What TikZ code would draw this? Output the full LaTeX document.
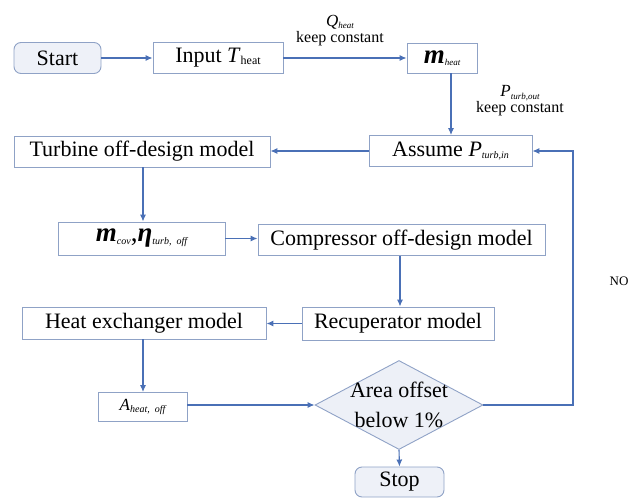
\documentclass[tikz,border=0pt]{standalone}
\usepackage{fontspec}
\setmainfont{Liberation Serif}
\usetikzlibrary{shapes.geometric,arrows.meta}
\definecolor{boxc}{HTML}{8FA2C6}
\definecolor{arrc}{HTML}{4A70B6}
\definecolor{termfill}{HTML}{EEF1F8}
\definecolor{diafill}{HTML}{EDF0F7}
\newcommand\mysub[2][10]{\raisebox{-2.5pt}{\fontsize{#1}{#1}\selectfont\mdseries\itshape #2}}
\begin{document}
\begin{tikzpicture}[x=1pt,y=-1pt,
  box/.style={draw=boxc, line width=0.9pt, minimum height=31pt, inner sep=0pt,
    font=\fontsize{22}{24}\selectfont},
  term/.style={box, rounded corners=7pt, fill=termfill},
  dia/.style={draw=boxc, line width=0.9pt, diamond, aspect=1.89, minimum width=168pt,
    minimum height=89pt, inner sep=0pt, fill=diafill},
  lbl/.style={inner sep=0pt, font=\fontsize{16}{16}\selectfont},
  arr/.style={draw=arrc, line width=1.1pt, -{Latex[length=7pt,width=6pt]}}
]
\useasboundingbox (0,0) rectangle (643,500);

\node[term, minimum width=87pt] (start) at (57.5,58) {Start};
\node[box, minimum width=130pt] (input) at (218,58) {Input \textit{T}\raisebox{-1.5pt}{\fontsize{12}{12}\selectfont heat}};
\node[box, minimum width=70pt, minimum height=30pt] (mheat) at (442,58) {\fontsize{27}{27}\selectfont\textbf{\textit{m}}\mysub[9]{heat}};
\node[box, minimum width=163pt] (assume) at (450.5,151) {Assume \textit{P}\mysub[10]{turb,in}};
\node[box, minimum width=256pt] (turb) at (142,151.5) {Turbine off-design model};
\node[box, minimum width=167pt, minimum height=33pt] (mcov) at (141.5,238.5) {\fontsize{27}{27}\selectfont\textbf{\textit{m}}\mysub[10]{cov},\textbf{\textit{η}}\mysub[10]{turb,\ \ off}};
\node[box, minimum width=287pt] (comp) at (401.5,240) {Compressor off-design model};
\node[box, minimum width=192pt, minimum height=33pt] (recup) at (398,323.5) {Recuperator model};
\node[box, minimum width=244pt, minimum height=32pt] (hx) at (144,323) {Heat exchanger model};
\node[box, minimum width=89pt, minimum height=29pt] (area) at (142.5,407) {\fontsize{17}{17}\selectfont\textit{A}\mysub[10]{heat,\ \ off}};
\node[dia] (dia) at (399,405) {};
\node[inner sep=0pt, align=center, font=\fontsize{22}{30}\selectfont] (diat) at (dia.center) {Area offset\\below 1\%};
\node[term, minimum width=89pt, minimum height=30pt] (stop) at (399.5,482) {Stop};

\node[lbl] (lq) at (340,22) {\fontsize{17}{17}\selectfont\textit{Q}\mysub[9]{heat}};
\node[lbl] (lk1) at (340,39) {keep constant};
\node[lbl] (lp) at (520,93) {\fontsize{17}{17}\selectfont\textit{P}\mysub[9]{turb,out}};
\node[lbl] (lk2) at (520,109) {keep constant};
\node[inner sep=0pt, font=\fontsize{13}{13}\selectfont] (no) at (619,281) {NO};

\draw[arr] (start) -- (input);
\draw[arr] (input) -- (mheat.west |- input);
\draw[arr] (mheat.south -| 451,0) -- (assume.north -| 451,0);
\draw[arr] (assume) -- (turb.east |- assume);
\draw[arr] (turb.south -| 143,0) -- (mcov.north -| 143,0);
\draw[arr] (mcov) -- (comp.west |- mcov);
\draw[arr] (comp.south -| 400,0) -- (recup.north -| 400,0);
\draw[arr] (recup) -- (hx.east |- recup);
\draw[arr] (hx.south -| 143,0) -- (area.north -| 143,0);
\draw[arr] (area.east |- dia) -- (dia.west);
\draw[arr] (dia.east) -- (573,405) |- (assume.east);
\draw[arr] (dia.south) -- (stop.north);
\end{tikzpicture}
\end{document}
